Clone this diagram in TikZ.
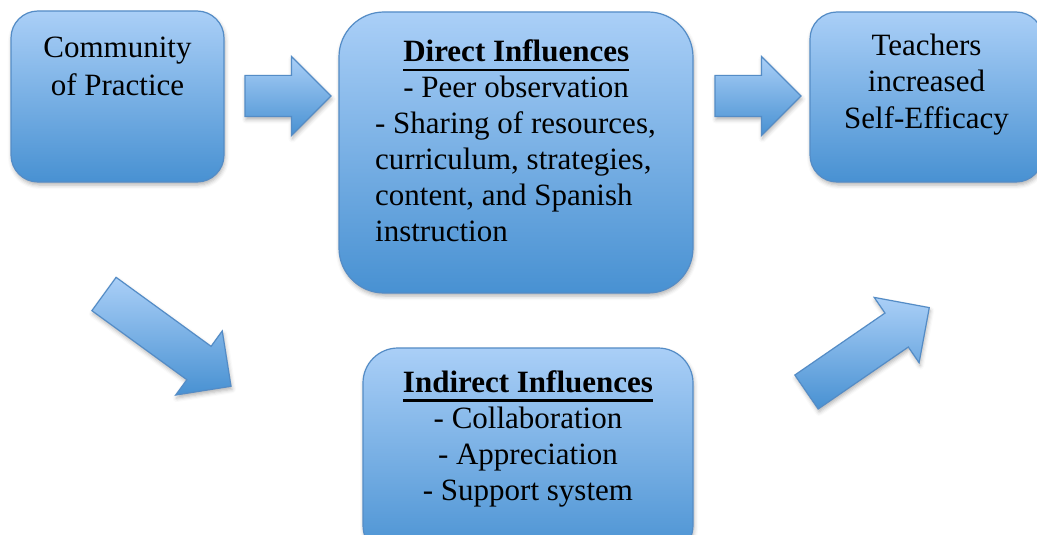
\documentclass[tikz,border=0pt]{standalone}
\usepackage{fontspec}
\setmainfont{Liberation Serif}
\usetikzlibrary{shapes.arrows,shadows.blur}
\definecolor{boxtop}{RGB}{170,207,247}
\definecolor{boxbot}{RGB}{72,145,210}
\definecolor{boxline}{RGB}{84,140,198}
\newcommand\myul[1]{\setbox0\hbox{#1}\rlap{\rule[-9.5pt]{\wd0}{2.2pt}}\box0}
\begin{document}
\begin{tikzpicture}[x=1pt,y=-1pt,
  softshadow/.style={blur shadow={shadow xshift=1pt, shadow yshift=-3pt, shadow opacity=30, shadow blur radius=4pt}},
  card/.style={draw=boxline, line width=1.2pt, top color=boxtop, bottom color=boxbot, inner sep=0pt, softshadow},
  fat/.style={single arrow, draw=boxline, line width=1.2pt, top color=boxtop, bottom color=boxbot,
    single arrow head extend=19pt, single arrow tip angle=90, single arrow head indent=0pt,
    inner xsep=0pt, inner ysep=20pt, text height=0pt, text depth=0pt, outer sep=0pt, anchor=tail, softshadow},
  txt/.style={font=\fontsize{31}{36}\selectfont, inner sep=0pt}
]
\useasboundingbox (0,0) rectangle (1037,535);
% boxes
\node[card, rounded corners=27pt, minimum width=213pt, minimum height=171pt] (cop) at (117.5,96.5) {};
\node[card, rounded corners=45pt, minimum width=354pt, minimum height=281pt] (direct) at (516,152.5) {};
\node[card, rounded corners=27pt, minimum width=233pt, minimum height=170pt] (teach) at (926.5,97) {};
\node[card, rounded corners=35pt, minimum width=330pt, minimum height=212pt] (indirect) at (528,454) {};
% texts
\node[txt, font=\fontsize{31}{37.5}\selectfont, text width=200pt, align=flush center, anchor=base] (coptext) at (117.5,58) {Community\\of Practice};
\node[txt, text width=300pt, align=flush left, anchor=base west] (directtext) at (375,62)
  {\makebox[282pt]{\myul{\textbf{Direct Influences}}}\\
   \makebox[282pt]{- Peer observation}\\
   - Sharing of resources,\\
   curriculum, strategies,\\
   content, and Spanish\\
   instruction};
\node[txt, font=\fontsize{31}{36.5}\selectfont, text width=220pt, align=flush center, anchor=base] (teachtext) at (926.5,55.5) {Teachers\\increased\\Self-Efficacy};
\node[txt, text width=300pt, align=flush center, anchor=base] (indirecttext) at (528,392)
  {\myul{\textbf{Indirect Influences}}\\- Collaboration\\- Appreciation\\- Support system};
% arrows
\node[fat, minimum height=86pt] (a1) at (245,96) {};
\node[fat, minimum height=86pt] (a2) at (715,96) {};
\node[fat, minimum height=157pt, rotate=-36] (a3) at (104,294) {};
\node[fat, minimum height=149pt, rotate=34.5] (a4) at (806.5,392) {};
\end{tikzpicture}
\end{document}
